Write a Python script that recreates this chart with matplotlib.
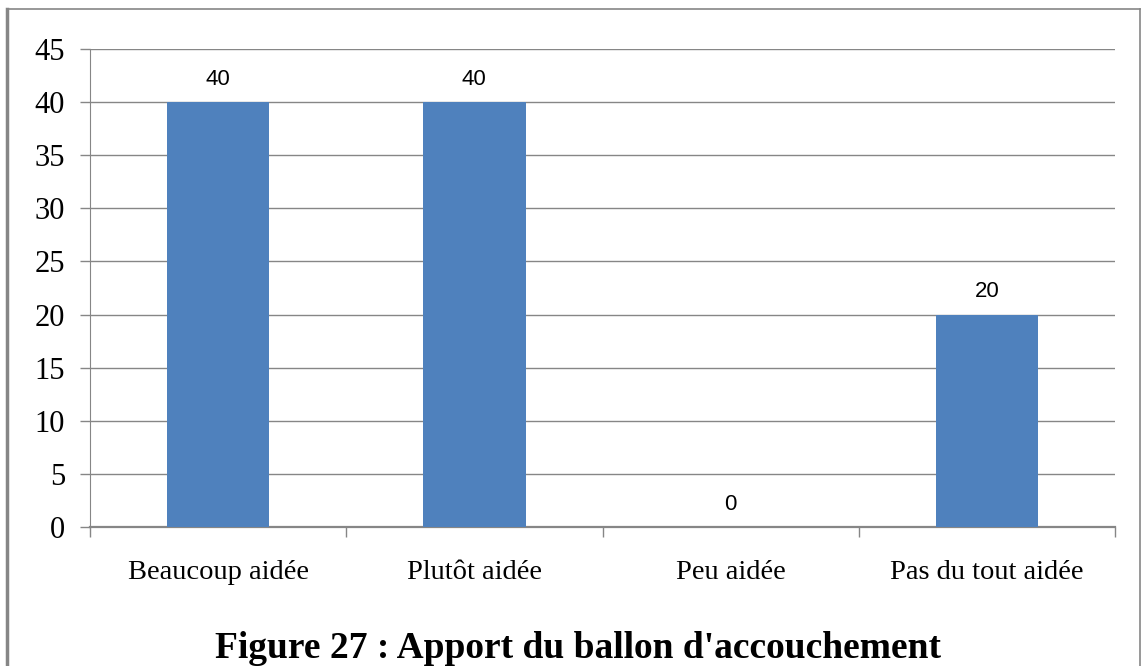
import matplotlib.pyplot as plt
from matplotlib.lines import Line2D

categories = ["Beaucoup aidée", "Plutôt aidée", "Peu aidée", "Pas du tout aidée"]
values = [40, 40, 0, 20]
y_ticks = [0, 5, 10, 15, 20, 25, 30, 35, 40, 45]

grey = "#868686"
serif = ["Liberation Serif", "DejaVu Serif"]

fig = plt.figure(figsize=(11.41, 6.66), dpi=100)
ax = fig.add_axes([90 / 1141, 1 - 527 / 666, (1115 - 90) / 1141, (527 - 49) / 666])

x = list(range(len(categories)))
ax.bar(x, values, width=0.4, color="#4F81BD", zorder=3)

for xi, v in zip(x, values):
    ax.annotate(str(v), (xi, v), xytext=(0, 9), textcoords="offset points",
                ha="center", va="bottom", fontsize=16, family="Liberation Sans")

ax.set_xlim(-0.5, len(categories) - 0.5)
ax.set_ylim(0, 45)
ax.set_yticks(y_ticks)
ax.set_yticklabels([str(t) for t in y_ticks], family=serif, fontsize=22)
ax.yaxis.grid(True, color=grey, linewidth=1.0, zorder=0)

# category labels between the boundary ticks
ax.set_xticks([i - 0.5 for i in range(len(categories) + 1)])
ax.set_xticklabels([])
ax.set_xticks(x, minor=True)
ax.set_xticklabels(categories, minor=True, family=serif, fontsize=20.5)
ax.tick_params(axis="x", which="minor", length=0, pad=24)
ax.tick_params(axis="x", which="major", length=7, color=grey, width=1)
ax.tick_params(axis="y", length=7, color=grey, width=1, pad=11)

for s in ["top", "right"]:
    ax.spines[s].set_visible(False)
ax.spines["left"].set_color(grey)
ax.spines["bottom"].set_color(grey)
ax.spines["bottom"].set_linewidth(1.6)

# outer frame of the chart
fig.add_artist(Line2D([7 / 1141, 7 / 1141], [0, 1 - 9 / 666], color=grey, linewidth=2.5))
fig.add_artist(Line2D([7 / 1141, 1140 / 1141], [1 - 9 / 666, 1 - 9 / 666], color=grey, linewidth=1.2))
fig.add_artist(Line2D([1140 / 1141, 1140 / 1141], [0, 1 - 9 / 666], color=grey, linewidth=1.2))

fig.text(578 / 1141, 1 - 658 / 666, "Figure 27 : Apport du ballon d'accouchement",
         ha="center", va="baseline", fontsize=27, fontweight="bold", family=serif)

fig.savefig("out.png", dpi=100)
